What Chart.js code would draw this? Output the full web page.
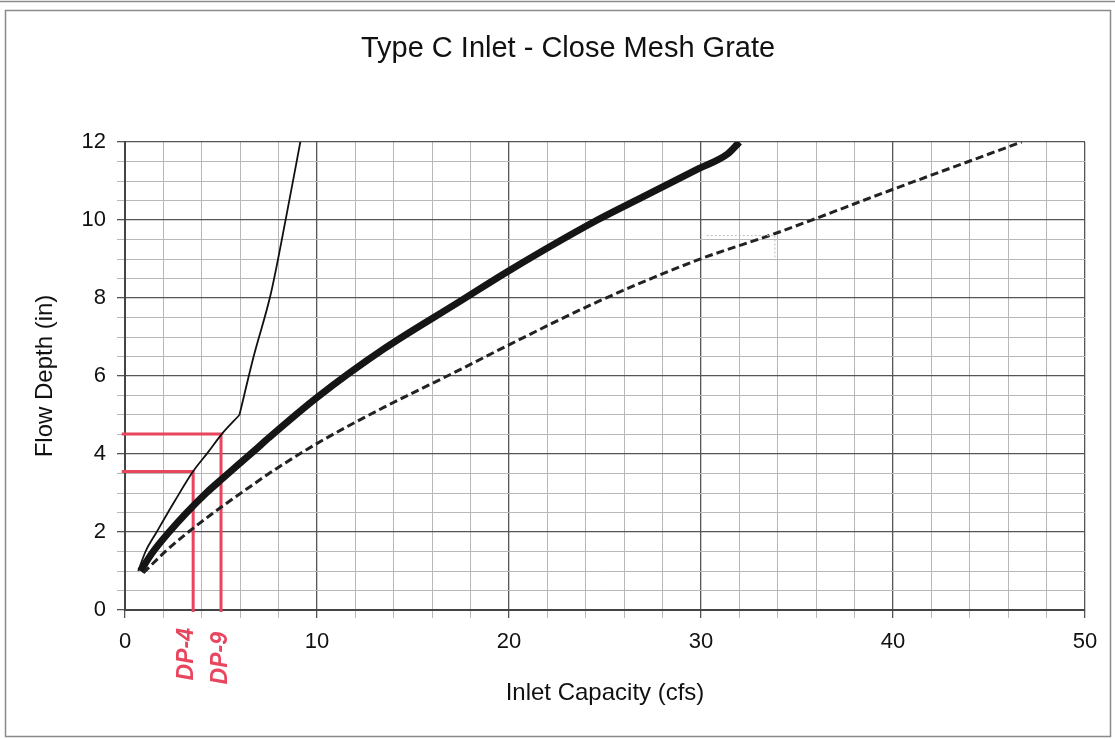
<!DOCTYPE html>
<html>
<head>
<meta charset="utf-8">
<title>Type C Inlet - Close Mesh Grate</title>
<script src="https://cdn.jsdelivr.net/npm/chart.js@4/dist/chart.umd.min.js"></script>
<style>
  html, body { margin: 0; padding: 0; background: #fff; }
  #chart { display: block; }
</style>
</head>
<body>
<canvas id="chart" width="1115" height="739"></canvas>
<script>
// ── Data ─────────────────────────────────────────────────────

const chartTitle = 'Type C Inlet - Close Mesh Grate';
const xTitle = 'Inlet Capacity (cfs)';
const yTitle = 'Flow Depth (in)';

// thin solid curve, in two parts either side of its kink at ~5 in
const thinLowX = [0.69, 1.07, 1.65, 2.6, 3.54, 4.3, 5.04, 5.96];
const thinLowY = [1.0, 1.5, 2.0, 2.8, 3.55, 4.03, 4.51, 5.0];
const thinHighX = [5.96, 6.7, 7.6, 8.38, 9.15];
const thinHighY = [5.0, 6.5, 8.12, 10.04, 12.05];

// thick solid curve
const thickX = [0.8, 1.47, 2.3, 3.2, 4.23, 5.1, 6.77, 7.5, 10, 13.5, 17.4, 20, 24.6, 27, 29.8, 31.4, 32];
const thickY = [1.0, 1.5, 2.0, 2.49, 3.0, 3.38, 4.1, 4.42, 5.45, 6.7, 7.9, 8.7, 10.0, 10.6, 11.3, 11.7, 12.0];

// dashed curve
const dashX = [0.95, 2.08, 3.3, 4.6, 5.1, 6.77, 7.5, 10, 13.5, 17.4, 20, 24.6, 29.8, 33.9, 39.8, 46.7];
const dashY = [0.95, 1.49, 2.0, 2.49, 2.67, 3.25, 3.5, 4.27, 5.2, 6.15, 6.8, 7.9, 8.97, 9.66, 10.75, 12.0];

// faint dotted scan mark
const markX = [30.3, 33.85, 33.85];
const markY = [9.6, 9.6, 8.97];

// red hand annotations
const dp4X = [-0.17, 3.55, 3.55];
const dp4Y = [3.55, 3.55, -0.05];
const dp9X = [-0.17, 5.0, 5.0];
const dp9Y = [4.51, 4.51, -0.05];
const dpLabels = ['DP-4', 'DP-9'];
const dpLabelX = [3.2, 5.0];

const xMajor = [0, 10, 20, 30, 40, 50];
const yMajor = [0, 2, 4, 6, 8, 10, 12];

// ── Helpers ──────────────────────────────────────────────────

const RED = '#e8455f';
const FONT = '"Liberation Sans", Arial, sans-serif';

function _points(xs, ys) {
  return xs.map((x, i) => ({ x, y: ys[i] }));
}

// frame, title and handwritten labels
const extras = {
  id: 'extras',
  beforeDraw(chart) {
    const { ctx } = chart;
    ctx.save();
    ctx.fillStyle = '#fff';
    ctx.fillRect(0, 0, chart.width, chart.height);
    ctx.strokeStyle = '#8a8a8a';
    ctx.lineWidth = 1.5;
    ctx.beginPath();
    ctx.moveTo(0, 1.5); ctx.lineTo(chart.width, 1.5);
    ctx.stroke();
    ctx.strokeRect(5.5, 10.5, 1105, 726);
    ctx.restore();
  },
  afterDraw(chart) {
    const { ctx, scales } = chart;
    ctx.save();
    ctx.fillStyle = '#111';
    ctx.font = `29px ${FONT}`;
    ctx.textAlign = 'center';
    ctx.textBaseline = 'alphabetic';
    ctx.fillText(chartTitle, 568, 57);

    ctx.fillStyle = RED;
    ctx.font = `italic bold 23px ${FONT}`;
    ctx.textAlign = 'right';
    ctx.textBaseline = 'middle';
    dpLabels.forEach((t, i) => {
      ctx.save();
      ctx.translate(scales.x.getPixelForValue(dpLabelX[i]), 628 + i * 4);
      ctx.rotate(-Math.PI / 2);
      ctx.fillText(t, 0, 0);
      ctx.restore();
    });
    ctx.restore();
  },
};

// ── Chart ────────────────────────────────────────────────────

const redLine = (label, xs, ys) => ({
  label,
  data: _points(xs, ys),
  showLine: true,
  borderColor: RED,
  borderWidth: 3,
  pointRadius: 0,
  clip: false,
  tension: 0,
});

const thinLine = (label, xs, ys) => ({
  label,
  data: _points(xs, ys),
  showLine: true,
  borderColor: '#111',
  borderWidth: 1.8,
  pointRadius: 0,
  cubicInterpolationMode: 'monotone',
});

new Chart(document.getElementById('chart'), {
  type: 'scatter',
  data: {
    datasets: [
      {
        label: 'mark',
        data: _points(markX, markY),
        showLine: true,
        borderColor: '#bdbdbd',
        borderWidth: 1,
        borderDash: [2, 2],
        pointRadius: 0,
      },
      {
        label: 'dashed',
        data: _points(dashX, dashY),
        showLine: true,
        borderColor: '#222',
        borderWidth: 3,
        borderDash: [8, 4],
        pointRadius: 0,
        cubicInterpolationMode: 'monotone',
      },
      {
        label: 'thick',
        data: _points(thickX, thickY),
        showLine: true,
        borderColor: '#151515',
        borderWidth: 7,
        pointRadius: 0,
        cubicInterpolationMode: 'monotone',
      },
      thinLine('thin low', thinLowX, thinLowY),
      thinLine('thin high', thinHighX, thinHighY),
      redLine('DP-4', dp4X, dp4Y),
      redLine('DP-9', dp9X, dp9Y),
    ],
  },
  options: {
    responsive: false,
    animation: false,
    devicePixelRatio: 1,
    layout: { padding: { top: 142, right: 30, left: 0, bottom: 0 } },
    plugins: {
      legend: { display: false },
      title: { display: false },
      tooltip: { enabled: false },
    },
    scales: {
      x: {
        type: 'linear',
        min: 0, max: 50,
        afterFit: (s) => { s.height = 129; },
        ticks: {
          stepSize: 2,
          autoSkip: false,
          maxRotation: 0,
          padding: 11,
          color: '#111',
          font: { family: FONT, size: 22 },
          callback: (v) => (xMajor.includes(v) ? v : ''),
        },
        grid: {
          tickLength: 8,
          color: (c) => (xMajor.includes(c.tick.value) ? '#555' : '#b8b8b8'),
          lineWidth: (c) => (xMajor.includes(c.tick.value) ? 1.3 : 1),
        },
        border: { color: '#444', width: 2 },
        title: {
          display: true,
          text: xTitle,
          color: '#111',
          font: { family: FONT, size: 24 },
          padding: { top: 0, bottom: 31 },
        },
      },
      y: {
        min: 0, max: 12,
        afterFit: (s) => { s.width = 125; },
        ticks: {
          stepSize: 0.5,
          autoSkip: false,
          padding: 11,
          color: '#111',
          font: { family: FONT, size: 22 },
          callback: (v) => (yMajor.includes(v) ? v : ''),
        },
        grid: {
          tickLength: 8,
          color: (c) => (yMajor.includes(c.tick.value) ? '#555' : '#b8b8b8'),
          lineWidth: (c) => (yMajor.includes(c.tick.value) ? 1.3 : 1),
        },
        border: { color: '#444', width: 2 },
        title: {
          display: true,
          text: yTitle,
          color: '#111',
          font: { family: FONT, size: 24 },
          padding: { top: 31, bottom: 0 },
        },
      },
    },
  },
  plugins: [extras],
});
</script>
</body>
</html>
